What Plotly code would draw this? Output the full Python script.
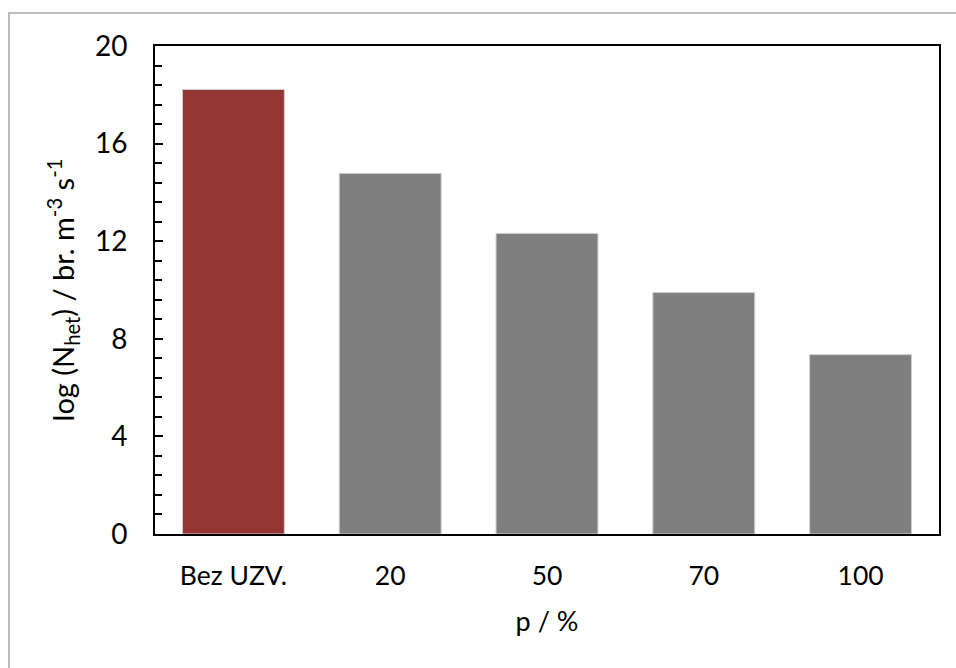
import plotly.graph_objects as go

categories = ["Bez UZV.", "20", "50", "70", "100"]
values = [18.22, 14.78, 12.32, 9.9, 7.35]
bar_colors = ["#943634", "#7f7f7f", "#7f7f7f", "#7f7f7f", "#7f7f7f"]
y_ticks = [0, 4, 8, 12, 16, 20]

W, H = 956, 668
L, R, T, B = 155, 17, 46, 134
pw, ph = W - L - R, H - T - B

fig = go.Figure()
fig.add_trace(go.Bar(
    x=categories, y=values,
    marker=dict(color=bar_colors, line=dict(color="#d0d0d0", width=1)),
))

font = dict(family="Lato, 'Open Sans', sans-serif", color="#000000")

fig.update_layout(
    width=W, height=H,
    margin=dict(l=L, r=R, t=T, b=B),
    paper_bgcolor="white", plot_bgcolor="white",
    bargap=0.35,
    showlegend=False,
    font=dict(**font, size=26),
    xaxis=dict(
        type="category",
        showline=True, linecolor="#000000", linewidth=2, mirror=True,
        ticks="", showgrid=False,
        tickfont=dict(size=26.5),
        ticklabelstandoff=17,
        title=dict(text="p / %", font=dict(size=27), standoff=22),
    ),
    yaxis=dict(
        range=[0, 20], tickvals=y_ticks,
        showline=True, linecolor="#000000", linewidth=2, mirror=True,
        ticks="inside", ticklen=8, tickwidth=1.5, tickcolor="#000000",
        showgrid=False, zeroline=False,
        minor=dict(dtick=0.8, tick0=0, ticks="inside", ticklen=7, tickwidth=1.5, tickcolor="#000000", showgrid=False),
        tickfont=dict(size=28),
        ticklabelstandoff=20,
        title=dict(text="log (N<sub>het</sub>) / br. m<sup>-3</sup> s<sup>-1</sup>", font=dict(size=29), standoff=12),
    ),
    shapes=[dict(
        type="rect", xref="paper", yref="paper",
        x0=(9 - L) / pw, x1=(W + 20 - L) / pw,
        y0=-(H + 20 - T - ph) / ph, y1=1 + (T - 13) / ph,
        line=dict(color="#bdbdbd", width=2), fillcolor="rgba(0,0,0,0)", layer="below",
    )],
)

fig.write_html("out.html", config={"displayModeBar": False},
               post_script="document.body.style.margin='0';")
